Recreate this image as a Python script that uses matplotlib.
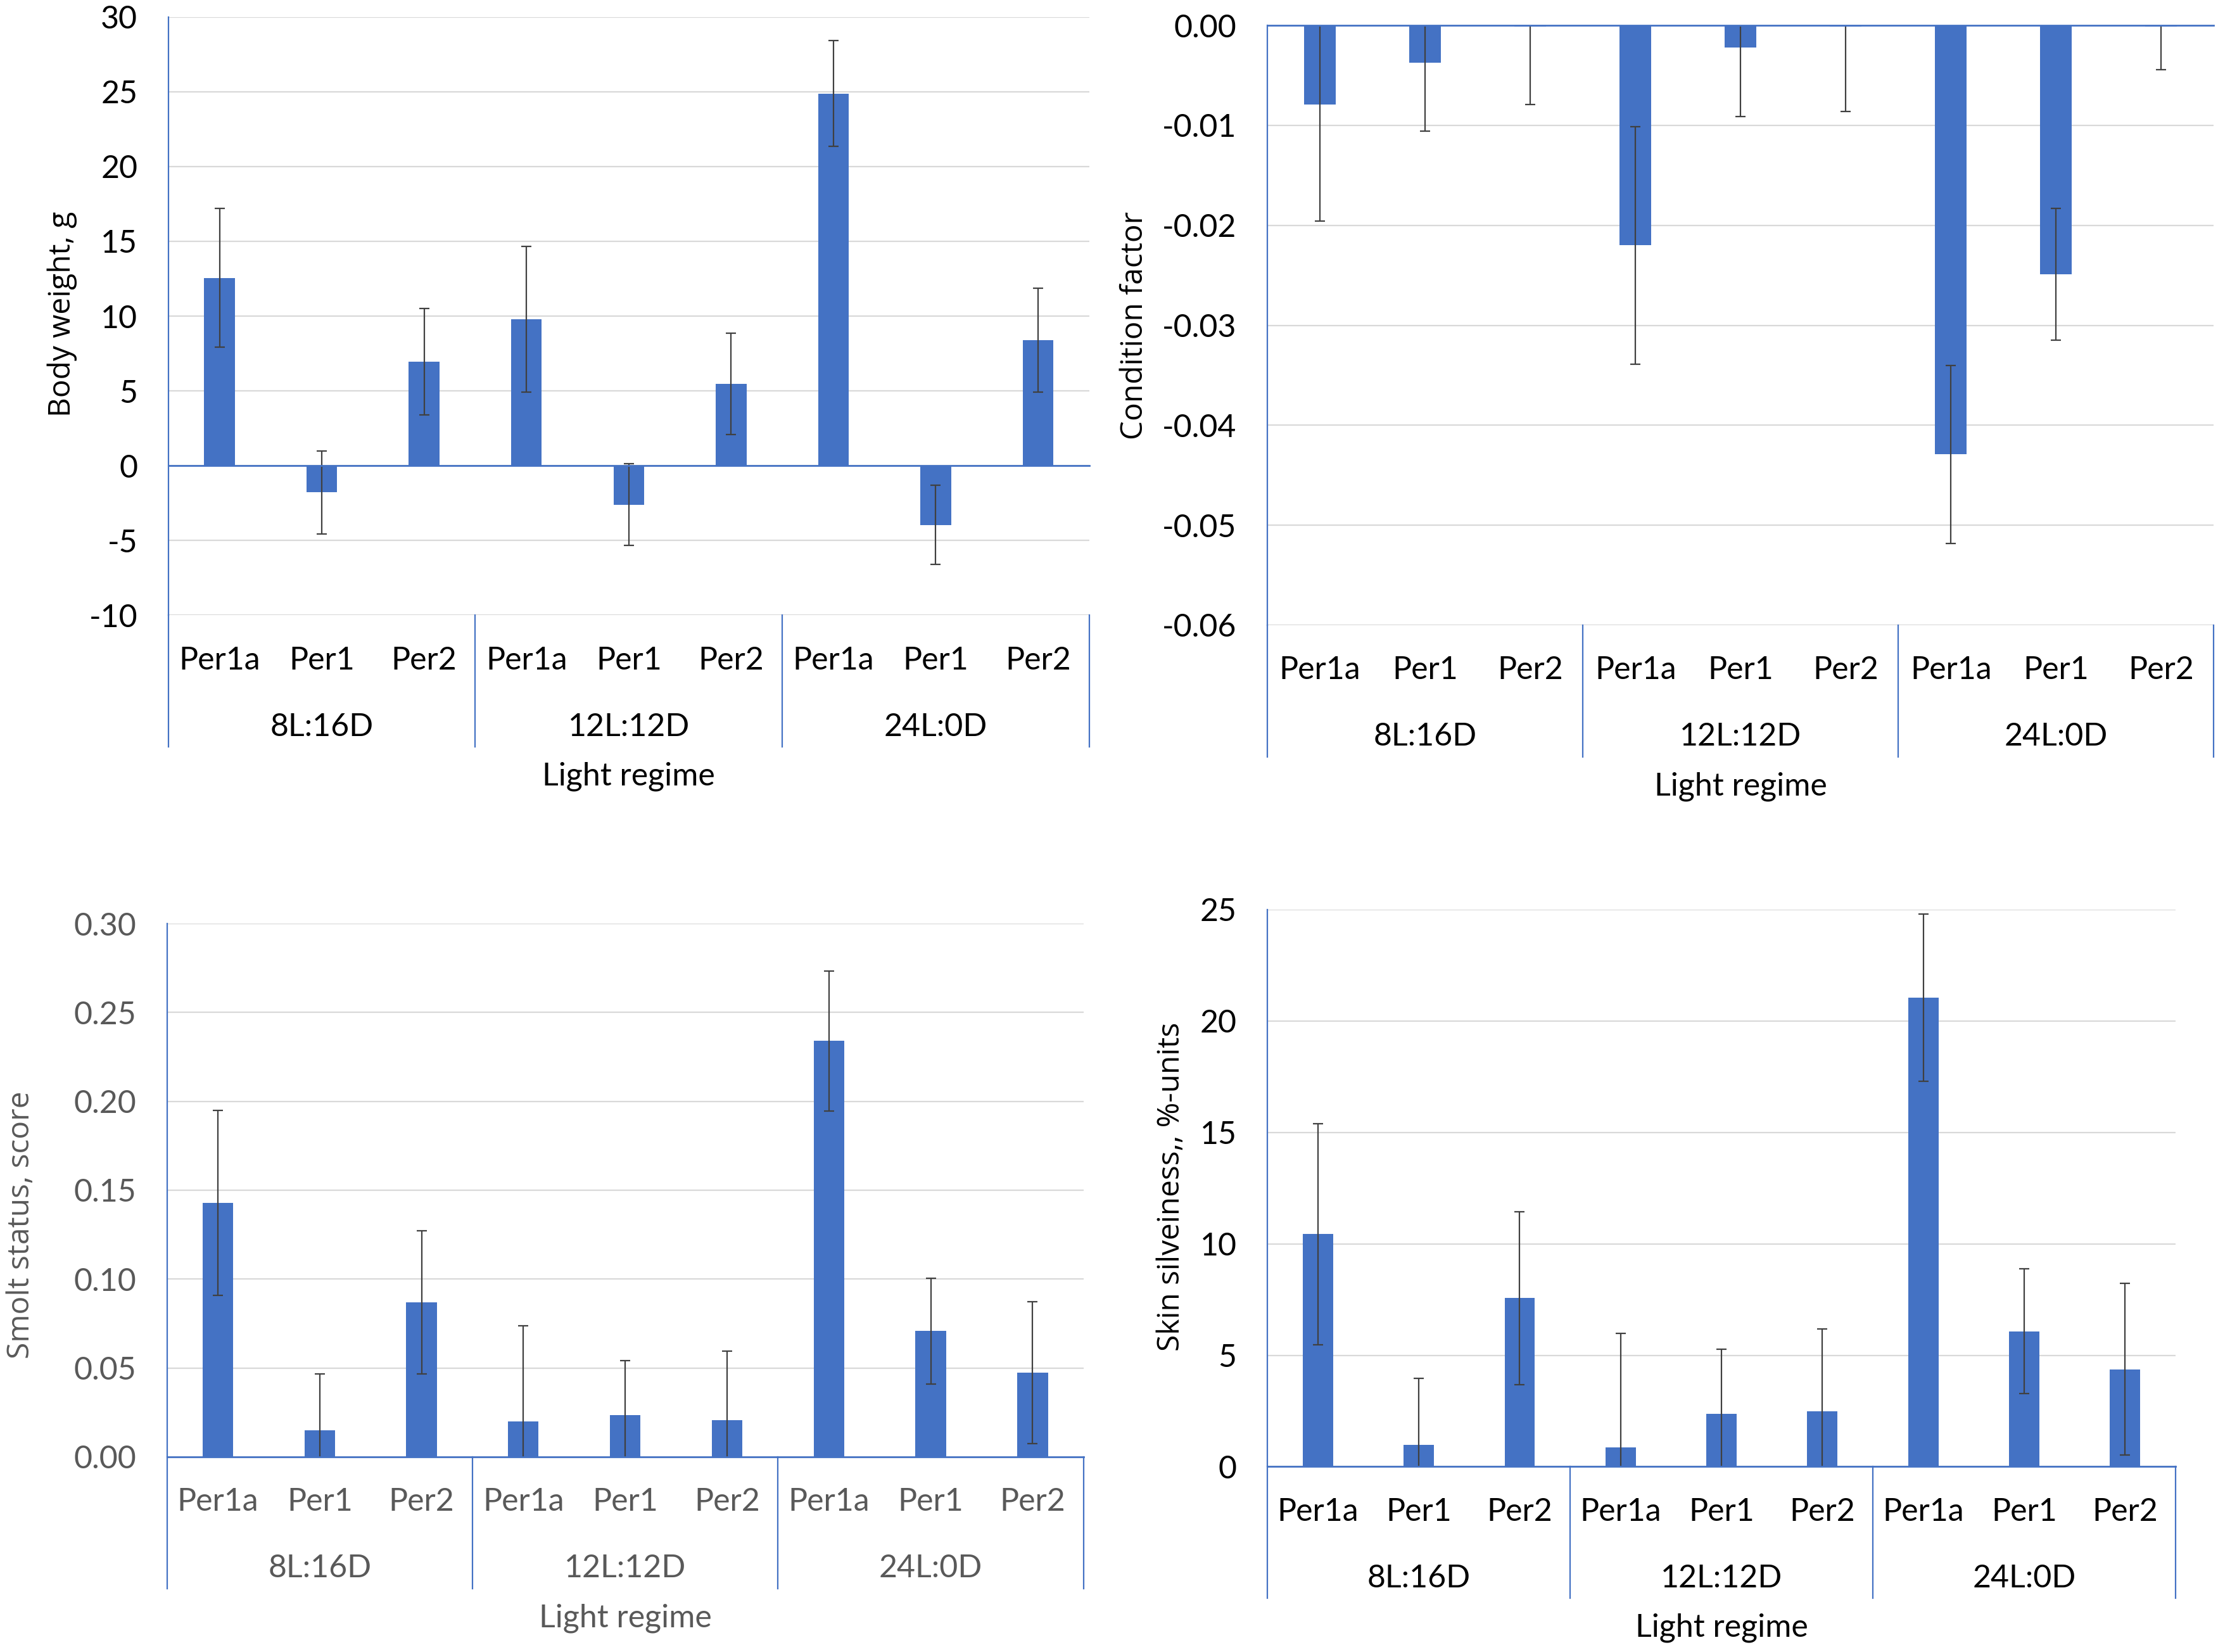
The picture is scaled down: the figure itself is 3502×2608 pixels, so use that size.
import matplotlib
matplotlib.use('Agg')
import matplotlib.pyplot as plt
from matplotlib.ticker import MultipleLocator, FuncFormatter
from matplotlib.transforms import blended_transform_factory, ScaledTranslation

plt.rcParams['axes.unicode_minus'] = False

genes = ['Per1a', 'Per1', 'Per2'] * 3
regimes = ['8L:16D', '12L:12D', '24L:0D']
x_title = 'Light regime'

bw_mean = [12.56, -1.79, 6.95, 9.79, -2.60, 5.47, 24.88, -3.96, 8.39]
bw_err = [4.63, 2.79, 3.56, 4.85, 2.74, 3.39, 3.53, 2.65, 3.46]

cf_mean = [-0.0079, -0.0037, -0.0001, -0.0220, -0.0022, -0.0001, -0.0429, -0.0249, -0.0001]
cf_err = [0.0117, 0.0069, 0.0078, 0.0119, 0.0069, 0.0085, 0.0089, 0.0066, 0.0043]

ss_mean = [0.143, 0.015, 0.087, 0.020, 0.0235, 0.0205, 0.234, 0.0707, 0.0472]
ss_err = [0.052, 0.0315, 0.0403, 0.0536, 0.0306, 0.039, 0.0393, 0.0298, 0.0399]

sk_mean = [10.43, 0.98, 7.56, 0.87, 2.37, 2.48, 21.04, 6.08, 4.37]
sk_err = [4.95, 2.98, 3.89, 5.10, 2.91, 3.71, 3.75, 2.80, 3.85]

BLUE = '#4472C4'
GRID = '#D9D9D9'
ERR = '#404040'
W, H = 1568.0, 1168.0      # reference overview coordinates
S = 3502.0 / 1568.0        # overview px -> output px
DPI = 100

fig = plt.figure(figsize=(35.02, 26.08), dpi=DPI)

TICK_FONT = 'Lato'
LAB_FONT = 'Open Sans'
FS = 36
LFS = 34.5


def panel(box, mean, err, ylim, step, fmt, ylabel, ylab_xy, tcolor):
    l, t, r, b = box
    ax = fig.add_axes([l / W, 1 - b / H, (r - l) / W, (b - t) / H])
    xs = list(range(len(mean)))
    ax.bar(xs, mean, width=0.3, color=BLUE, zorder=3,
           yerr=err, error_kw=dict(ecolor=ERR, elinewidth=1.6, capsize=5.5,
                                   capthick=1.6, zorder=4))
    ax.set_xlim(-0.5, len(mean) - 0.5)
    ax.set_ylim(*ylim)
    ax.yaxis.set_major_locator(MultipleLocator(step))
    ax.yaxis.set_major_formatter(FuncFormatter(fmt))
    ax.grid(axis='y', color=GRID, lw=1.6, zorder=0)
    ax.axhline(0, color=BLUE, lw=2.0, zorder=5, clip_on=False)
    for s in ['top', 'right', 'bottom']:
        ax.spines[s].set_visible(False)
    ax.spines['left'].set_color(BLUE)
    ax.spines['left'].set_linewidth(1.6)
    ax.tick_params(axis='y', length=0, pad=35, labelsize=FS, labelcolor=tcolor)
    for lab in ax.get_yticklabels():
        lab.set_fontfamily(TICK_FONT)
    ax.set_xticks([])

    ax_h_in = (b - t) * S / DPI
    bt = blended_transform_factory(ax.transData, ax.transAxes)

    def off(px):
        return bt + ScaledTranslation(0, -px * S / DPI, fig.dpi_scale_trans)

    for i, g in enumerate(genes):
        ax.text(i, 0, g, transform=off(32), ha='center', va='center',
                fontsize=FS, family=TICK_FONT, color=tcolor)
    for j, rg in enumerate(regimes):
        ax.text(3 * j + 1, 0, rg, transform=off(79), ha='center', va='center',
                fontsize=FS, family=TICK_FONT, color=tcolor)
    sep_frac = 93 * S / DPI / ax_h_in
    for xb in [-0.5, 2.5, 5.5, 8.5]:
        ax.plot([xb, xb], [0, -sep_frac], transform=bt, color=BLUE, lw=1.6,
                clip_on=False, zorder=5)
    ax.text(4, 0, x_title, transform=off(114), ha='center', va='center',
            fontsize=FS, family=TICK_FONT, color=tcolor)

    lx, ly = ylab_xy
    ax.text((lx - l) / (r - l), (b - ly) / (b - t), ylabel, transform=ax.transAxes,
            rotation=90, ha='center', va='center', fontsize=LFS,
            family=LAB_FONT, color=tcolor)
    return ax


int_fmt = lambda v, p: '%d' % round(v)
two_fmt = lambda v, p: ('%.2f' % v).replace('-0.00', '0.00')

panel((119, 12, 770, 435), bw_mean, bw_err, (-10, 30), 5, int_fmt,
      'Body weight, g', (44, 222), 'black')
panel((896, 18, 1565, 442), cf_mean, cf_err, (-0.06, 0.0), 0.01, two_fmt,
      'Condition factor', (802, 230), 'black')
panel((118, 653, 766, 1030), ss_mean, ss_err, (0.0, 0.30), 0.05, two_fmt,
      'Smolt status, score', (15, 866), '#595959')
panel((896, 643, 1538, 1037), sk_mean, sk_err, (0, 25), 5, int_fmt,
      'Skin silveiness,, %-units', (828, 839), 'black')

fig.savefig('out.png', dpi=DPI)
